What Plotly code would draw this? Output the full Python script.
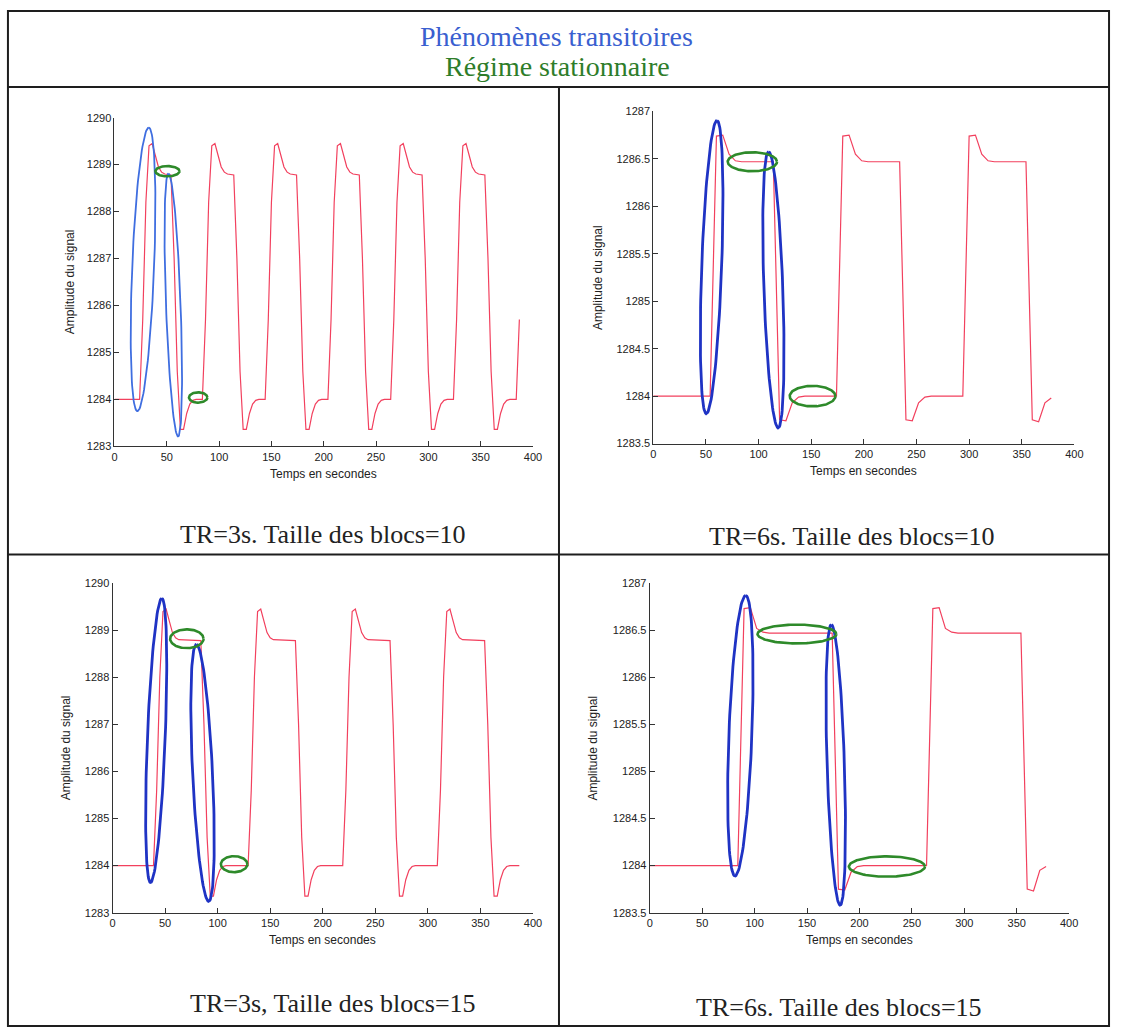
import numpy as np
import plotly.graph_objects as go

W, H = 1121, 1034

# ---------------- data ----------------
# TR=3s, Taille des blocs=10
t_a = [0, 24, 27, 30, 33, 36, 39, 42, 45, 48, 54, 57, 60, 63, 66, 69, 72, 75, 78,
       84, 87, 90, 93, 96, 99, 102, 105, 108, 114, 117, 120, 123, 126, 129, 132, 135, 138,
       144, 147, 150, 153, 156, 159, 162, 165, 168, 174, 177, 180, 183, 186, 189, 192, 195, 198,
       204, 207, 210, 213, 216, 219, 222, 225, 228, 234, 237, 240, 243, 246, 249, 252, 255, 258,
       264, 267, 270, 273, 276, 279, 282, 285, 288, 294, 297, 300, 303, 306, 309, 312, 315, 318,
       324, 327, 330, 333, 336, 339, 342, 345, 348, 354, 357, 360, 363, 366, 369, 372, 375, 378,
       384, 387]
y_a = [1284.0,
       1284.0, 1285.7, 1288.2, 1289.4, 1289.45, 1289.2, 1288.95, 1288.84, 1288.8, 1288.78, 1287.0, 1284.6, 1283.36, 1283.36, 1283.7, 1283.9, 1283.98, 1284.0,
       1284.0, 1285.7, 1288.2, 1289.4, 1289.45, 1289.2, 1288.95, 1288.84, 1288.8, 1288.78, 1287.0, 1284.6, 1283.36, 1283.36, 1283.7, 1283.9, 1283.98, 1284.0,
       1284.0, 1285.7, 1288.2, 1289.4, 1289.45, 1289.2, 1288.95, 1288.84, 1288.8, 1288.78, 1287.0, 1284.6, 1283.36, 1283.36, 1283.7, 1283.9, 1283.98, 1284.0,
       1284.0, 1285.7, 1288.2, 1289.4, 1289.45, 1289.2, 1288.95, 1288.84, 1288.8, 1288.78, 1287.0, 1284.6, 1283.36, 1283.36, 1283.7, 1283.9, 1283.98, 1284.0,
       1284.0, 1285.7, 1288.2, 1289.4, 1289.45, 1289.2, 1288.95, 1288.84, 1288.8, 1288.78, 1287.0, 1284.6, 1283.36, 1283.36, 1283.7, 1283.9, 1283.98, 1284.0,
       1284.0, 1285.7, 1288.2, 1289.4, 1289.45, 1289.2, 1288.95, 1288.84, 1288.8, 1288.78, 1287.0, 1284.6, 1283.36, 1283.36, 1283.7, 1283.9, 1283.98, 1284.0,
       1284.0, 1285.7]

# TR=6s, Taille des blocs=10
t_b = [0, 54, 60, 66, 72, 78, 84, 114, 120, 126, 132, 138, 144,
       174, 180, 186, 192, 198, 204, 234, 240, 246, 252, 258, 264,
       294, 300, 306, 312, 318, 324, 354, 360, 366, 372, 378]
y_b = [1284.0,
       1284.0, 1286.74, 1286.75, 1286.55, 1286.48, 1286.47, 1286.47, 1283.75, 1283.74, 1283.93, 1283.99, 1284.0,
       1284.0, 1286.74, 1286.75, 1286.55, 1286.48, 1286.47, 1286.47, 1283.75, 1283.74, 1283.93, 1283.99, 1284.0,
       1284.0, 1286.74, 1286.75, 1286.55, 1286.48, 1286.47, 1286.47, 1283.75, 1283.73, 1283.93, 1283.98]

# TR=3s, Taille des blocs=15
t_c = [0, 39, 42, 45, 48, 51, 54, 57, 60, 63, 84, 87, 90, 93, 96, 99, 102, 105, 108,
       129, 132, 135, 138, 141, 144, 147, 150, 153, 174, 177, 180, 183, 186, 189, 192, 195, 198,
       219, 222, 225, 228, 231, 234, 237, 240, 243, 264, 267, 270, 273, 276, 279, 282, 285, 288,
       309, 312, 315, 318, 321, 324, 327, 330, 333, 354, 357, 360, 363, 366, 369, 372, 375, 378,
       387]
y_c = [1284.0,
       1284.0, 1285.6, 1288.0, 1289.4, 1289.45, 1289.2, 1288.95, 1288.84, 1288.8, 1288.78, 1287.0, 1284.6, 1283.35, 1283.35, 1283.7, 1283.9, 1283.98, 1284.0,
       1284.0, 1285.6, 1288.0, 1289.4, 1289.45, 1289.2, 1288.95, 1288.84, 1288.8, 1288.78, 1287.0, 1284.6, 1283.35, 1283.35, 1283.7, 1283.9, 1283.98, 1284.0,
       1284.0, 1285.6, 1288.0, 1289.4, 1289.45, 1289.2, 1288.95, 1288.84, 1288.8, 1288.78, 1287.0, 1284.6, 1283.35, 1283.35, 1283.7, 1283.9, 1283.98, 1284.0,
       1284.0, 1285.6, 1288.0, 1289.4, 1289.45, 1289.2, 1288.95, 1288.84, 1288.8, 1288.78, 1287.0, 1284.6, 1283.35, 1283.35, 1283.7, 1283.9, 1283.98, 1284.0,
       1284.0]

# TR=6s, Taille des blocs=15
t_d = [0, 84, 90, 96, 102, 108, 114, 174, 180, 186, 192, 198, 204,
       264, 270, 276, 282, 288, 294, 354, 360, 366, 372, 378]
y_d = [1284.0,
       1284.0, 1286.73, 1286.74, 1286.52, 1286.48, 1286.47, 1286.47, 1283.75, 1283.74, 1283.93, 1283.99, 1284.0,
       1284.0, 1286.73, 1286.74, 1286.52, 1286.48, 1286.47, 1286.47, 1283.75, 1283.73, 1283.95, 1283.99]

captions = ["TR=3s. Taille des blocs=10", "TR=6s. Taille des blocs=10",
            "TR=3s, Taille des blocs=15", "TR=6s. Taille des blocs=15"]
x_ticks = [0, 50, 100, 150, 200, 250, 300, 350, 400]
y_ticks_3s = [1283, 1284, 1285, 1286, 1287, 1288, 1289, 1290]
y_ticks_6s = [1283.5, 1284, 1284.5, 1285, 1285.5, 1286, 1286.5, 1287]
title_1 = "Phénomènes transitoires"
title_2 = "Régime stationnaire"
x_label = "Temps en secondes"
y_label = "Amplitude du signal"

# hand-drawn highlight ellipses (annotation marks): cx, cy, ax, ay, bx, by
blue_a = [(27.3, 1286.77, 5.4, 3.02, 10.5, 0), (56.2, 1286.01, -4.6, 2.8, 7.0, 0)]
green_a = [(50.6, 1288.86, 11.5, 0, 0, 0.11), (80.0, 1284.04, 8.8, 0, 0, 0.11)]
blue_b = [(55.45, 1285.36, 5.05, 1.545, 9.5, 0), (114.1, 1285.12, -4.55, 1.455, 9.0, 0)]
green_b = [(94.1, 1286.47, 23.4, 0, 0, 0.1), (151.3, 1284.0, 21.7, 0, 0, 0.108)]
blue_c = [(41.55, 1286.66, 5.35, 3.02, 8.5, 0), (85.65, 1285.97, -5.85, 2.73, 9.5, 0)]
green_c = [(70.7, 1288.82, 15.9, 0, 0, 0.2), (115.7, 1284.03, 12.6, 0, 0, 0.17)]
blue_d = [(86.45, 1285.38, 5.05, 1.49, 11.0, 0), (177.4, 1285.07, -4.2, 1.49, 8.3, 0)]
green_d = [(140.4, 1286.46, 37.6, 0, 0, 0.1), (226.2, 1283.99, 36.3, 0, 0, 0.108)]

# ---------------- layout geometry (pixels) ----------------
panels = [
    dict(t=t_a, y=y_a, xl=112.7, xr=535.7, yt=113.0, yb=445.5, yr=[1283, 1290], yt_vals=y_ticks_3s,
         blue=blue_a, green=green_a, bcol="#3f6ee0", bw=1.8, cap=(323, 535), xlab_y=473, ylab_x=68),
    dict(t=t_b, y=y_b, xl=657.3, xr=1083.0, yt=106.7, yb=442.7, yr=[1283.5, 1287], yt_vals=y_ticks_6s,
         blue=blue_b, green=green_b, bcol="#1f33c4", bw=2.8, cap=(858, 537), xlab_y=470, ylab_x=601),
    dict(t=t_c, y=y_c, xl=110.7, xr=535.7, yt=584.0, yb=917.3, yr=[1283, 1290], yt_vals=y_ticks_3s,
         blue=blue_c, green=green_c, bcol="#1f33c4", bw=2.8, cap=(334, 1009), xlab_y=945, ylab_x=64),
    dict(t=t_d, y=y_d, xl=653.7, xr=1077.7, yt=584.0, yb=917.3, yr=[1283.5, 1287], yt_vals=y_ticks_6s,
         blue=blue_d, green=green_d, bcol="#1f33c4", bw=2.8, cap=(845, 1013), xlab_y=945, ylab_x=596),
]

def px(x):
    return x / W

def py(y):
    return 1 - y / H

RED = "#f2405e"
GREEN = "#2e8a2a"
SANS = "Liberation Sans, Arial, sans-serif"
SERIF = "Liberation Serif, Times New Roman, serif"

fig = go.Figure()
annotations = []
theta = np.linspace(0, 2 * np.pi, 120)

for i, p in enumerate(panels):
    k = "" if i == 0 else str(i + 1)
    xa, ya = "x" + k, "y" + k
    fig.add_trace(go.Scatter(x=p["t"], y=p["y"], mode="lines", xaxis=xa, yaxis=ya,
                             line=dict(color=RED, width=1.2), showlegend=False, hoverinfo="skip"))
    for (cx, cy, ax_, ay_, bx_, by_) in p["blue"]:
        fig.add_trace(go.Scatter(x=cx + ax_ * np.cos(theta) + bx_ * np.sin(theta),
                                 y=cy + ay_ * np.cos(theta) + by_ * np.sin(theta),
                                 mode="lines", xaxis=xa, yaxis=ya,
                                 line=dict(color=p["bcol"], width=p["bw"]),
                                 showlegend=False, hoverinfo="skip"))
    for (cx, cy, ax_, ay_, bx_, by_) in p["green"]:
        fig.add_trace(go.Scatter(x=cx + ax_ * np.cos(theta) + bx_ * np.sin(theta),
                                 y=cy + ay_ * np.cos(theta) + by_ * np.sin(theta),
                                 mode="lines", xaxis=xa, yaxis=ya,
                                 line=dict(color=GREEN, width=2.6),
                                 showlegend=False, hoverinfo="skip"))
    axis_common = dict(showgrid=False, zeroline=False, showline=True, linecolor="#333",
                       linewidth=1, ticks="inside", ticklen=5, tickcolor="#333",
                       tickfont=dict(family=SANS, size=11, color="#222"), fixedrange=True)
    fig.layout["xaxis" + k] = dict(domain=[px(p["xl"]), px(p["xr"])], range=[0, 400],
                                   anchor=ya, tickvals=x_ticks,
                                   ticktext=[str(v) for v in x_ticks], **axis_common)
    fig.layout["yaxis" + k] = dict(domain=[py(p["yb"]), py(p["yt"])], range=p["yr"],
                                   anchor=xa, tickvals=p["yt_vals"],
                                   ticktext=[("%g" % v) for v in p["yt_vals"]], **axis_common)
    # axis titles
    annotations.append(dict(text=x_label, x=px((p["xl"] + p["xr"]) / 2), y=py(p["xlab_y"]),
                            xref="paper", yref="paper", showarrow=False, xanchor="center",
                            yanchor="middle", font=dict(family=SANS, size=12, color="#222")))
    annotations.append(dict(text=y_label, x=px(p["ylab_x"]), y=py((p["yt"] + p["yb"]) / 2),
                            xref="paper", yref="paper", showarrow=False, textangle=-90,
                            xanchor="center", yanchor="middle",
                            font=dict(family=SANS, size=12, color="#222")))
    annotations.append(dict(text=captions[i], x=px(p["cap"][0]), y=py(p["cap"][1]),
                            xref="paper", yref="paper", showarrow=False, xanchor="center",
                            yanchor="middle", font=dict(family=SERIF, size=26, color="#222")))

annotations.append(dict(text=title_1, x=px(559), y=py(31), xref="paper", yref="paper",
                        showarrow=False, xanchor="center", yanchor="middle",
                        font=dict(family=SERIF, size=28, color="#3a5fd0")))
annotations.append(dict(text=title_2, x=px(561), y=py(61), xref="paper", yref="paper",
                        showarrow=False, xanchor="center", yanchor="middle",
                        font=dict(family=SERIF, size=28, color="#2e7d2a")))

# table frame
LC = "#1e1e1e"
shapes = [
    dict(type="rect", xref="paper", yref="paper", x0=px(5), x1=px(1118), y0=py(1032), y1=py(5),
         line=dict(color=LC, width=2)),
    dict(type="line", xref="paper", yref="paper", x0=px(5), x1=px(1118), y0=py(82), y1=py(82),
         line=dict(color=LC, width=2)),
    dict(type="line", xref="paper", yref="paper", x0=px(5), x1=px(1118), y0=py(555), y1=py(555),
         line=dict(color=LC, width=2)),
    dict(type="line", xref="paper", yref="paper", x0=px(562), x1=px(562), y0=py(82), y1=py(1032),
         line=dict(color=LC, width=2)),
]

fig.update_layout(width=W, height=H, margin=dict(l=0, r=0, t=0, b=0),
                  paper_bgcolor="white", plot_bgcolor="white",
                  annotations=annotations, shapes=shapes, showlegend=False)

fig.write_html("out.html")
